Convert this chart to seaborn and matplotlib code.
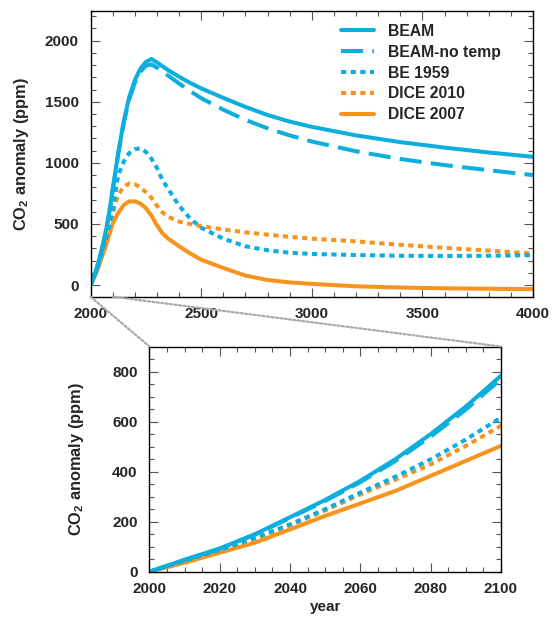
"""CO2 anomaly for five carbon-cycle models: long run (2000-4000) and a zoom (2000-2100)."""
import pandas as pd
import seaborn as sns
import matplotlib
matplotlib.use("Agg")
import matplotlib.pyplot as plt
from matplotlib.patches import ConnectionPatch

sns.set_style("ticks")
plt.rcParams["font.family"] = ["Liberation Sans", "DejaVu Sans"]
plt.rcParams["font.weight"] = "bold"
plt.rcParams["mathtext.fontset"] = "custom"
plt.rcParams["mathtext.rm"] = "Liberation Sans:bold"
plt.rcParams["mathtext.default"] = "rm"


############################## Data.

years = [2000, 2010, 2020, 2030, 2040, 2050, 2060, 2070, 2080, 2090, 2100,
         2125, 2150, 2175, 2200, 2225, 2250, 2275, 2300, 2325, 2350,
         2400, 2450, 2500, 2600, 2700, 2800, 2900, 3000,
         3200, 3400, 3600, 3800, 4000]

beam = [0, 48, 93, 150, 218, 287, 363, 450, 550, 660, 783,
        1080, 1340, 1540, 1675, 1770, 1825, 1850, 1822, 1790, 1760,
        1705, 1655, 1610, 1532, 1458, 1392, 1338, 1295,
        1225, 1170, 1125, 1085, 1050]

beam_notemp = [0, 47, 92, 148, 215, 283, 358, 443, 540, 648, 770,
               1070, 1325, 1520, 1655, 1745, 1795, 1805, 1780, 1748, 1715,
               1650, 1588, 1530, 1435, 1352, 1283, 1225, 1175,
               1095, 1032, 982, 940, 900]

be1959 = [0, 44, 87, 135, 189, 250, 316, 380, 449, 528, 616,
          900, 1010, 1080, 1112, 1119, 1090, 1035, 960, 860, 790,
          650, 545, 470, 380, 318, 285, 265, 255,
          246, 240, 238, 240, 245]

dice2010 = [0, 42, 83, 130, 185, 245, 309, 368, 429, 503, 583,
            740, 805, 832, 825, 800, 760, 715, 650, 595, 560,
            520, 500, 482, 455, 432, 413, 395, 380,
            358, 330, 305, 282, 258]

dice2007 = [0, 36, 76, 116, 169, 223, 273, 323, 383, 443, 503,
            590, 655, 685, 685, 668, 630, 570, 490, 425, 382,
            318, 260, 208, 140, 78, 42, 22, 10,
            -10, -20, -26, -30, -33]

models = ["BEAM", "BEAM-no temp", "BE 1959", "DICE 2010", "DICE 2007"]
series = [beam, beam_notemp, be1959, dice2010, dice2007]

df = pd.concat([pd.DataFrame({"year": years, "co2": vals, "model": name})
                for name, vals in zip(models, series)], ignore_index=True)


############################## Styles.

BLUE = "#0caede"
ORANGE = "#f7941d"
PALETTE = {"BEAM": BLUE, "BEAM-no temp": BLUE, "BE 1959": BLUE,
           "DICE 2010": ORANGE, "DICE 2007": ORANGE}
DASHES = {"BEAM": "", "BEAM-no temp": (5.5, 2.3), "BE 1959": (1.3, 1.1),
          "DICE 2010": (1.3, 1.1), "DICE 2007": ""}
LW = 2.9
DRAW_ORDER = models[::-1]  # BEAM ends up on top

FIGSIZE = (5.53, 6.24)
TICK_FS = 11
LABEL_FS = 11.8


def style_axes(ax, xmaj, xmin, ymaj, ymin):
    ax.xaxis.set(major_locator=plt.MultipleLocator(xmaj),
                 minor_locator=plt.MultipleLocator(xmin))
    ax.yaxis.set(major_locator=plt.MultipleLocator(ymaj),
                 minor_locator=plt.MultipleLocator(ymin))
    ax.tick_params(which="both", direction="in", top=True, right=True,
                   color="#555555", width=0.8, labelsize=TICK_FS)
    ax.tick_params(which="major", length=6.5)
    ax.tick_params(which="minor", length=3.4)
    ax.tick_params(axis="x", which="major", pad=7.5)
    ax.tick_params(axis="y", which="major", pad=8.5)
    for s in ax.spines.values():
        s.set_linewidth(1.0)
        s.set_color("black")
    for lab in ax.get_xticklabels() + ax.get_yticklabels():
        lab.set_fontweight("bold")


fig = plt.figure(figsize=FIGSIZE, dpi=100)
ax = fig.add_axes([0.1637, 0.5245, 0.8002, 0.4583])
ax2 = fig.add_axes([0.2703, 0.0838, 0.6356, 0.3609])


############################## Top panel (2000-4000).

sns.lineplot(data=df, x="year", y="co2", hue="model", style="model",
             hue_order=DRAW_ORDER, style_order=DRAW_ORDER,
             palette=PALETTE, dashes=DASHES, linewidth=LW,
             legend="full", ax=ax)

ax.set_xlim(2000, 4000)
ax.set_ylim(-95, 2245)
ax.set_xlabel("")
ax.set_ylabel("CO$_2$ anomaly (ppm)", fontsize=LABEL_FS, fontweight="bold",
              labelpad=10)
style_axes(ax, 500, 100, 500, 100)

handles, labels = ax.get_legend_handles_labels()
order = [labels.index(m) for m in models]
for h in handles:
    h.set_linewidth(LW)
ax.legend([handles[i] for i in order], [labels[i] for i in order],
          loc="upper left", bbox_to_anchor=(0.566, 0.955),
          frameon=False, borderaxespad=0, borderpad=0,
          handlelength=2.1, handletextpad=0.9, labelspacing=0.38,
          prop=dict(size=11.3, weight="bold"))


############################## Bottom panel (zoom on 2000-2100).

sns.lineplot(data=df, x="year", y="co2", hue="model", style="model",
             hue_order=DRAW_ORDER, style_order=DRAW_ORDER,
             palette=PALETTE, dashes=DASHES, linewidth=LW,
             legend=False, ax=ax2)

ax2.set_xlim(2000, 2100)
ax2.set_ylim(0, 900)
ax2.set_xlabel("year", fontsize=TICK_FS, fontweight="bold", labelpad=3)
ax2.set_ylabel("CO$_2$ anomaly (ppm)", fontsize=LABEL_FS, fontweight="bold",
               labelpad=19)
style_axes(ax2, 20, 5, 200, 50)


############################## Dotted zoom connectors.

y0 = ax.get_ylim()[0]
for x in (2000, 2100):
    con = ConnectionPatch(xyA=(x, y0), coordsA=ax.transData,
                          xyB=(x, 900), coordsB=ax2.transData,
                          color="#aaaaaa", linewidth=1.6,
                          linestyle=(0, (1, 1)))
    fig.add_artist(con)

fig.savefig("out.png", dpi=100)
plt.close(fig)
